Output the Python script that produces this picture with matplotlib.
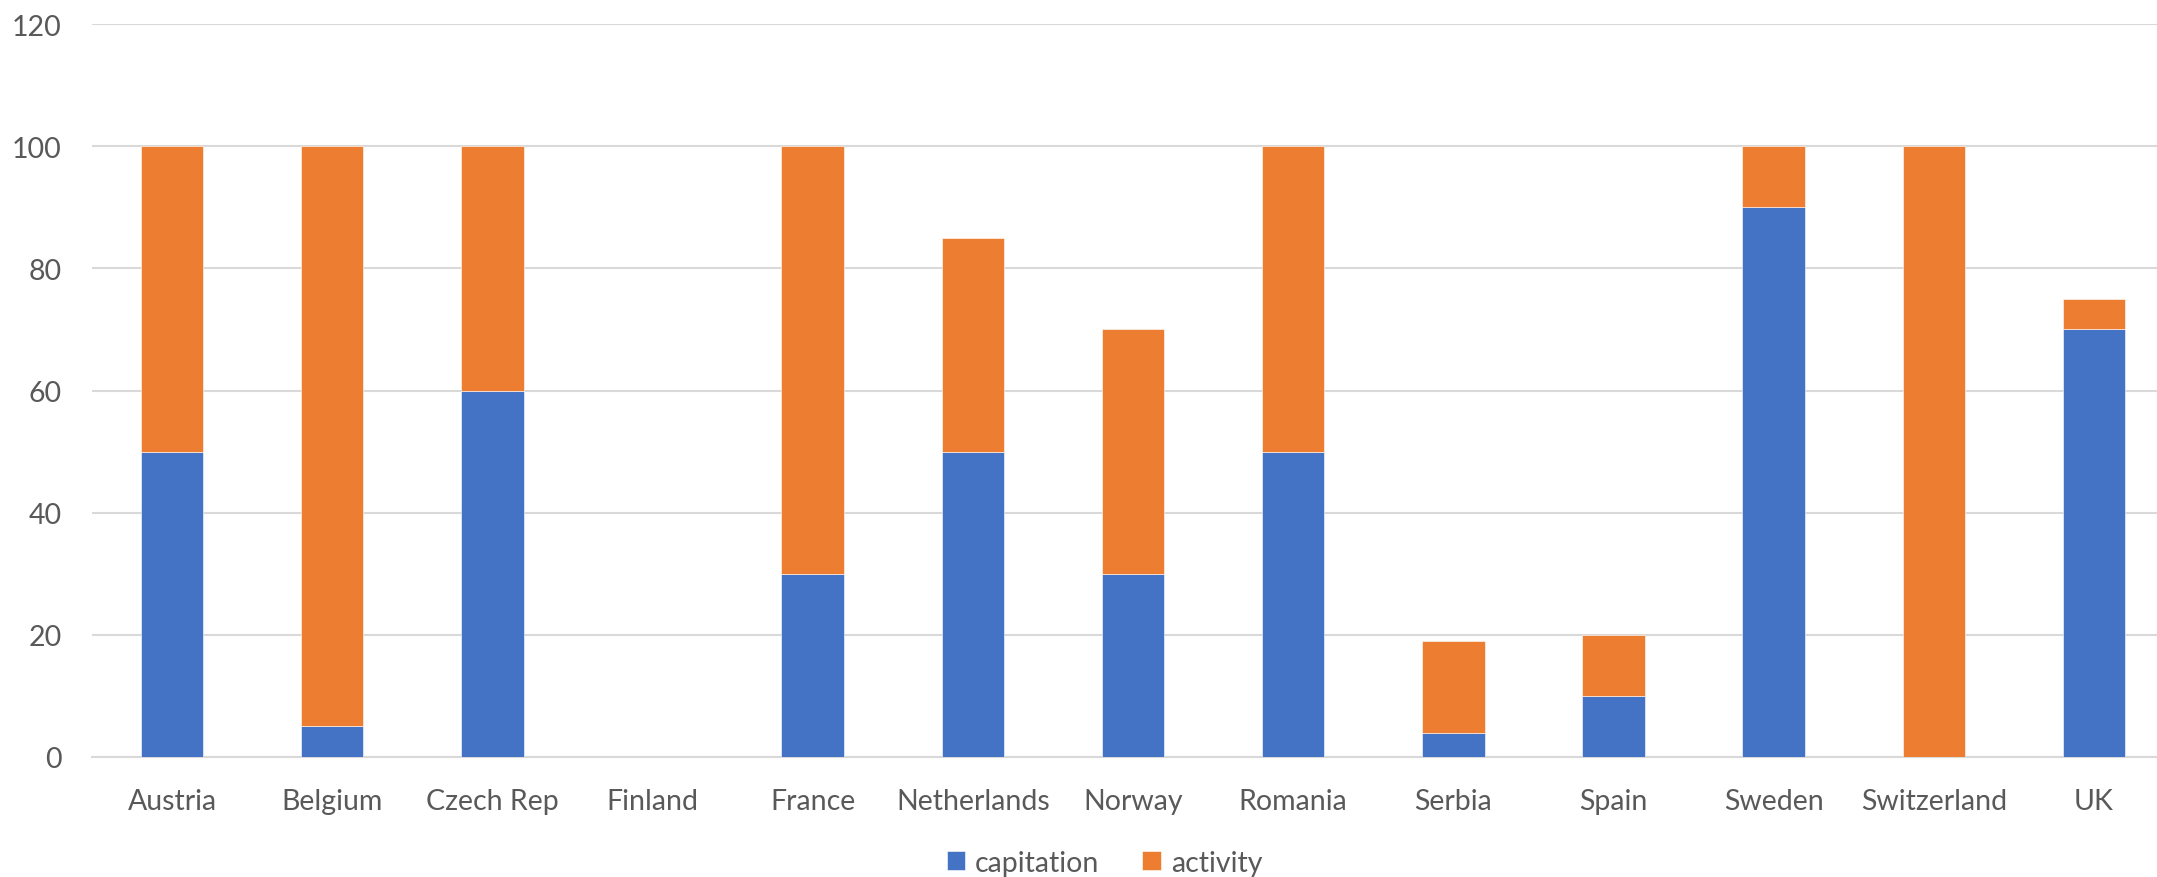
import matplotlib
matplotlib.use("Agg")
import matplotlib.pyplot as plt
import numpy as np

countries = ["Austria", "Belgium", "Czech Rep", "Finland", "France", "Netherlands",
             "Norway", "Romania", "Serbia", "Spain", "Sweden", "Switzerland", "UK"]
capitation = [50, 5, 60, 0, 30, 50, 30, 50, 4, 10, 90, 0, 70]
activity = [50, 95, 40, 0, 70, 35, 40, 50, 15, 10, 10, 100, 5]
yticks = [0, 20, 40, 60, 80, 100, 120]

blue = "#4472C4"
orange = "#ED7D31"
grey = "#595959"
plt.rcParams['font.family'] = ['Lato', 'DejaVu Sans']

fig = plt.figure(figsize=(21.57, 8.78), dpi=100)
ax = fig.add_axes([92/2157, (878-758)/878, (2174-92)/2157, (758-25)/878])

x = np.arange(len(countries))
w = 0.39
ax.bar(x, capitation, w, color=blue, label="capitation", zorder=3,
       edgecolor="#ffffff", linewidth=0.4)
ax.bar(x, activity, w, bottom=capitation, color=orange, label="activity", zorder=3,
       edgecolor="#ffffff", linewidth=0.4)

ax.set_xlim(-0.5, len(countries) - 0.5)
ax.set_ylim(0, 120)
ax.set_yticks(yticks)
ax.set_yticklabels([str(v) for v in yticks])
ax.set_xticks(x)
ax.set_xticklabels(countries)
ax.yaxis.grid(True, color="#d9d9d9", linewidth=1.5, zorder=0)
ax.set_axisbelow(True)
for s in ["top", "right", "left"]:
    ax.spines[s].set_visible(False)
ax.spines["bottom"].set_color("#d9d9d9")
ax.spines["bottom"].set_linewidth(1.5)
ax.tick_params(axis="both", length=0, labelsize=20.5, labelcolor=grey)
ax.tick_params(axis="y", pad=22)
ax.tick_params(axis="x", pad=22)

fig.legend(loc="center", bbox_to_anchor=(0.512, 0.016), ncol=2, frameon=False,
           fontsize=20.5, labelcolor=grey, handlelength=0.65, handleheight=0.65,
           handletextpad=0.35, columnspacing=1.5)

fig.savefig("out.png", dpi=100)
